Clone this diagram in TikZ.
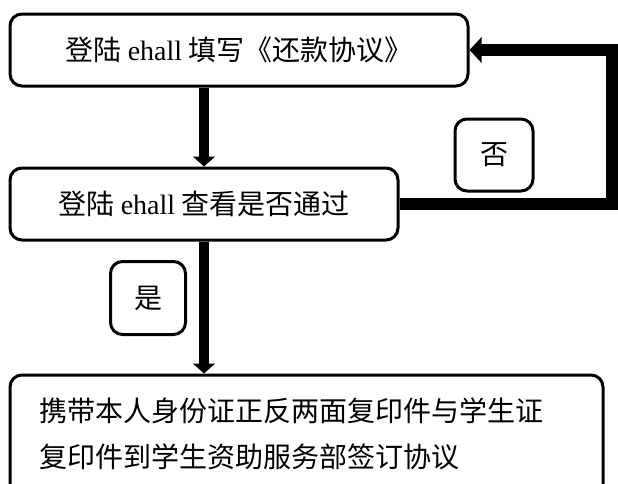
\documentclass[tikz,border=0pt]{standalone}
\usepackage{fontspec}
\setmainfont{Liberation Serif}
\newfontfamily\cjk{Noto Sans CJK SC}
\usetikzlibrary{arrows.meta}
\begin{document}
\begin{tikzpicture}[x=1pt,y=-1pt,
  box/.style={draw,line width=3pt,rounded corners=12pt,inner sep=0pt},
  conn/.style={line width=10pt,-{Triangle[width=22pt,length=10pt]}},
  back/.style={line width=12pt,-{Triangle[width=25pt,length=12pt]}},
  txt/.style={font=\fontsize{28}{46}\selectfont}]
\useasboundingbox (0,0) rectangle (618,483);
\clip (0,0) rectangle (618,483);
\node[box,minimum width=458pt,minimum height=72pt,txt] (b1) at (239,50)
  {\cjk 登陆 {\rmfamily ehall} 填写《还款协议》};
\node[box,minimum width=388pt,minimum height=72pt,txt] (b2) at (204,204)
  {\cjk 登陆 {\rmfamily ehall} 查看是否通过};
\node[box,minimum width=593pt,minimum height=140pt] (b3) at (306.5,445) {};
\node[txt,anchor=north west,align=left,inner sep=0pt] (t3) at (39,398)
  {\cjk 携带本人身份证正反两面复印件与学生证\\\cjk 复印件到学生资助服务部签订协议};
\node[box,minimum width=78pt,minimum height=72pt,txt] (no) at (494,155) {\cjk 否};
\node[box,minimum width=75pt,minimum height=73pt,txt] (yes) at (148,298) {\cjk 是};
\coordinate (rc) at (612,130);
\draw[conn] (b1.south -| b2.north) -- (b2.north);
\draw[conn] (b2.south) -- (b3.north -| b2.south);
\draw[back] (b2.east) -| (rc) |- (b1.east);
\end{tikzpicture}
\end{document}
